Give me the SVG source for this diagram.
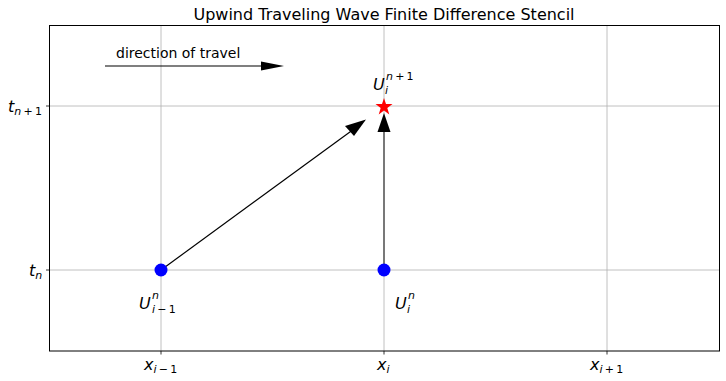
<svg xmlns="http://www.w3.org/2000/svg" width="726" height="381" viewBox="0 0 726 381">
<style>
text{font-family:"DejaVu Sans",sans-serif;fill:#000}
.m{font-style:italic;font-size:16px}
.sub{font-size:11px;font-style:italic}
.up{font-size:11px;font-style:normal}
.grid{stroke:#b0b0b0;stroke-width:0.8}
.tick{stroke:#000;stroke-width:0.8}
</style>
<rect width="726" height="381" fill="#fff"/>
<text x="384" y="20" text-anchor="middle" font-size="16">Upwind Traveling Wave Finite Difference Stencil</text>
<g id="grid">
<line class="grid" x1="161" y1="25.5" x2="161" y2="351"/>
<line class="grid" x1="384" y1="25.5" x2="384" y2="351"/>
<line class="grid" x1="607" y1="25.5" x2="607" y2="351"/>
<line class="grid" x1="49.5" y1="106" x2="719.5" y2="106"/>
<line class="grid" x1="49.5" y1="270" x2="719.5" y2="270"/>
</g>
<g id="ticks">
<line class="tick" x1="161" y1="351" x2="161" y2="354.5"/>
<line class="tick" x1="384" y1="351" x2="384" y2="354.5"/>
<line class="tick" x1="607" y1="351" x2="607" y2="354.5"/>
<line class="tick" x1="46" y1="106" x2="49.5" y2="106"/>
<line class="tick" x1="46" y1="270" x2="49.5" y2="270"/>
<text class="m" x="144" y="370">x<tspan class="sub" dy="3">i</tspan><tspan class="up">&#8201;&#8722;&#8201;1</tspan></text>
<text class="m" x="377" y="370">x<tspan class="sub" dy="3">i</tspan></text>
<text class="m" x="590" y="370">x<tspan class="sub" dy="3">i</tspan><tspan class="up">&#8201;+&#8201;1</tspan></text>
<text class="m" x="8" y="112">t<tspan class="sub" dy="3">n</tspan><tspan class="up">&#8201;+&#8201;1</tspan></text>
<text class="m" x="29" y="276">t<tspan class="sub" dy="3">n</tspan></text>
</g>
<rect x="49.5" y="25.5" width="670" height="325.5" fill="none" stroke="#000" stroke-width="1"/>
<g id="connectors">
<g id="travel">
<line x1="105" y1="66" x2="262" y2="66" stroke="#000" stroke-width="1.2"/>
<polygon points="261,61.5 284,66 261,70.5" fill="#000"/>
</g>
<g id="diag">
<line x1="161" y1="270" x2="354" y2="129" stroke="#000" stroke-width="1.2"/>
<polygon points="366,119.5 345,126 354,136" fill="#000"/>
</g>
<g id="vert">
<line x1="384" y1="270" x2="384" y2="130" stroke="#333" stroke-width="1.2"/>
<polygon points="384,113 377.5,132 390.5,132" fill="#000"/>
</g>
</g>
<text x="116" y="58" font-size="14">direction of travel</text>
<g id="n-im1">
<circle cx="161" cy="270" r="6.5" fill="#0000ff"/>
<text class="m" x="139" y="309">U</text>
<text class="sub" x="152" y="299">n</text>
<text class="sub" x="152" y="313">i<tspan class="up">&#8201;&#8722;&#8201;1</tspan></text>
</g>
<g id="n-i">
<circle cx="384" cy="270" r="6.5" fill="#0000ff"/>
<text class="m" x="395" y="309">U</text>
<text class="sub" x="408" y="299">n</text>
<text class="sub" x="407" y="313">i</text>
</g>
<g id="n-next">
<polygon points="384,98 386,104 392.5,104 387.3,108 389.3,114.5 384,110.5 378.7,114.5 380.7,108 375.5,104 382,104" fill="#ff0000"/>
<text class="m" x="373" y="90">U</text>
<text class="sub" x="386" y="80">n<tspan class="up">&#8201;+&#8201;1</tspan></text>
<text class="sub" x="385" y="94">i</text>
</g>
</svg>
